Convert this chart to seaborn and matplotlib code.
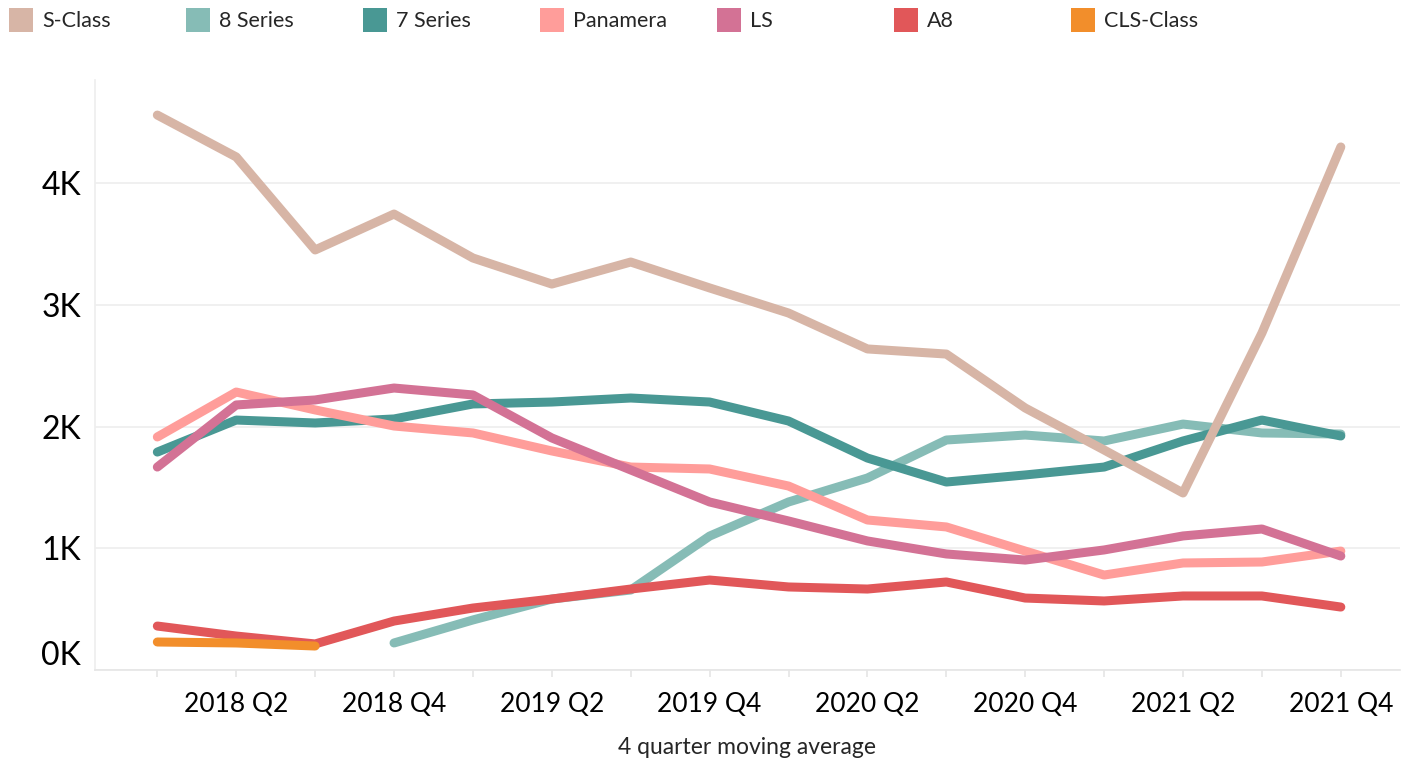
import matplotlib
matplotlib.use("Agg")
import matplotlib.pyplot as plt
import matplotlib.transforms as mtransforms
import seaborn as sns
import pandas as pd
from matplotlib.patches import Rectangle

quarters = ["2018 Q1", "2018 Q2", "2018 Q3", "2018 Q4",
            "2019 Q1", "2019 Q2", "2019 Q3", "2019 Q4",
            "2020 Q1", "2020 Q2", "2020 Q3", "2020 Q4",
            "2021 Q1", "2021 Q2", "2021 Q3", "2021 Q4"]

s_class = [4558, 4214, 3450, 3745, 3384, 3170, 3351, 3138, 2932, 2637, 2595, 2152, 1807, 1454, 2768, 4296]
series8 = [None, None, None, 222, 411, 583, 657, 1100, 1380, 1577, 1889, 1930, 1881, 2020, 1947, 1938]
series7 = [1790, 2053, 2029, 2062, 2185, 2201, 2234, 2201, 2045, 1741, 1544, 1602, 1667, 1881, 2053, 1922]
panamera = [1914, 2283, 2136, 2004, 1947, 1799, 1667, 1651, 1511, 1232, 1175, 977, 780, 879, 887, 977]
ls = [1667, 2177, 2218, 2316, 2259, 1906, 1643, 1380, 1224, 1060, 953, 903, 986, 1101, 1158, 936]
a8 = [361, 279, 214, 402, 509, 583, 665, 739, 682, 665, 723, 591, 567, 608, 608, 517]
cls_class = [230, 222, 197] + [None] * 13

models = ["S-Class", "8 Series", "7 Series", "Panamera", "LS", "A8", "CLS-Class"]
values = [s_class, series8, series7, panamera, ls, a8, cls_class]
colors = ["#D7B5A6", "#86BCB6", "#499894", "#FF9D9A", "#D37295", "#E15759", "#F28E2B"]
zorders = [10, 3, 4, 5, 6, 7, 8]

rows = []
for m, vals in zip(models, values):
    for i, v in enumerate(vals):
        if v is not None:
            rows.append({"model": m, "q": i, "value": v})
df = pd.DataFrame(rows)

sns.set_theme(style="white")
plt.rcParams["font.family"] = ["Lato", "DejaVu Sans"]

W, H = 1417, 758
fig = plt.figure(figsize=(W / 100, H / 100), dpi=100)
ax = fig.add_axes([95 / W, 1 - 670 / H, (1400 - 95) / W, (670 - 80) / H])

for m, c, z in zip(models, colors, zorders):
    sub = df[df.model == m]
    sns.lineplot(data=sub, x="q", y="value", color=c, linewidth=6.5,
                 ax=ax, legend=False, sort=True, zorder=z,
                 solid_capstyle="round", solid_joinstyle="round")

ax.set_xlim(-0.79, 15.75)
ax.set_ylim(0, 4846)
ax.set_yticks([0, 1000, 2000, 3000, 4000])
ax.set_yticklabels(["0K", "1K", "2K", "3K", "4K"], fontsize=23)
ax.set_xticks(range(len(quarters)))
ax.set_xticklabels([q if i % 2 == 1 else "" for i, q in enumerate(quarters)], fontsize=19)
ax.yaxis.grid(True, color="#eeeeee", linewidth=1.2)
ax.xaxis.grid(False)
for s in ["top", "right"]:
    ax.spines[s].set_visible(False)
ax.spines["left"].set_color("#eeeeee")
ax.spines["bottom"].set_color("#e6e6e6")
ax.tick_params(axis="y", length=7, color="#eeeeee", pad=3, labelcolor="black")
ax.tick_params(axis="x", length=5, color="#e6e6e6", pad=11, labelcolor="black", bottom=True)
ax.set_xlabel("4 quarter moving average", fontsize=16.5, labelpad=14)
ax.set_ylabel("")
lbl0 = ax.get_yticklabels()[0]
lbl0.set_transform(lbl0.get_transform() + mtransforms.ScaledTranslation(0, 17 / 100, fig.dpi_scale_trans))

x0 = 9
step = 177
for i, (m, c) in enumerate(zip(models, colors)):
    lx = x0 + i * step
    fig.add_artist(Rectangle((lx / W, 1 - 32 / H), 24 / W, 24 / H,
                             transform=fig.transFigure, color=c, lw=0))
    fig.text((lx + 33) / W, 1 - 21 / H, m, fontsize=15.5, va="center", ha="left")

fig.savefig("out.png", dpi=100, facecolor="white")
